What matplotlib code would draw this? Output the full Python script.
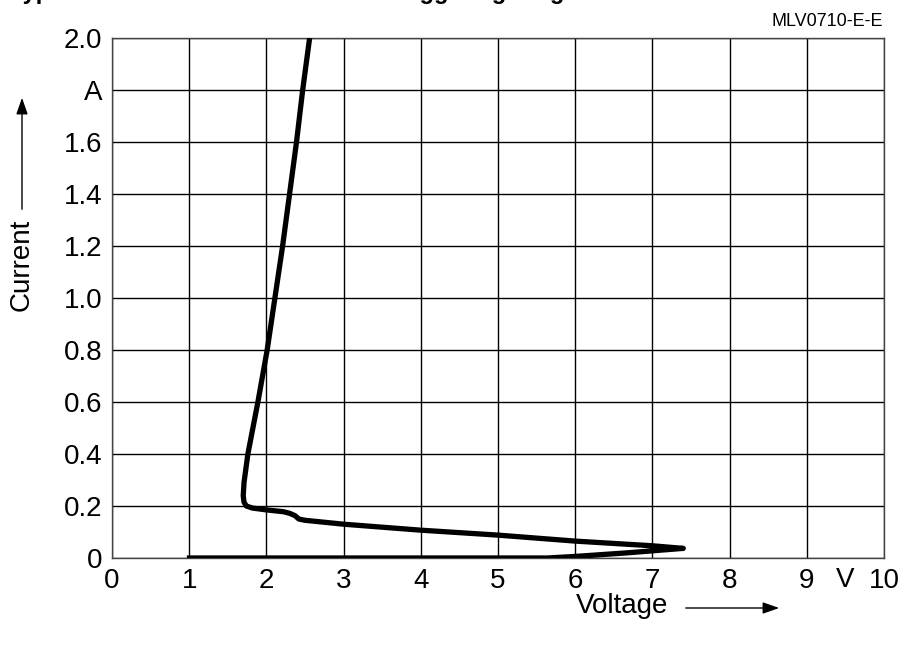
import matplotlib
matplotlib.use("Agg")
import matplotlib.pyplot as plt

plt.rcParams['font.family'] = ['Liberation Sans Narrow', 'Liberation Sans', 'DejaVu Sans']

# curve, traced from the start at 1 V along the bottom,
# out to the peak near 7.4 V and back up the steep branch
volt = [0.97, 2.0, 3.0, 4.0, 5.0, 5.64, 6.0, 6.68, 7.1, 7.4,
        7.0, 6.0, 5.0, 4.0, 3.0, 2.5, 2.42, 2.37, 2.30, 2.22, 2.0, 1.82,
        1.74, 1.71, 1.70, 1.71, 1.76, 1.89, 2.01, 2.11, 2.21, 2.30, 2.39, 2.47, 2.56]
amp = [0.0, 0.0, 0.0, 0.0, 0.0, 0.0, 0.006, 0.02, 0.03, 0.037,
       0.047, 0.065, 0.088, 0.107, 0.13, 0.145, 0.150, 0.163, 0.172, 0.178, 0.185, 0.192,
       0.200, 0.215, 0.24, 0.29, 0.40, 0.60, 0.80, 1.00, 1.20, 1.40, 1.60, 1.80, 2.0]

xticks = [0, 1, 2, 3, 4, 5, 6, 7, 8, 9, 10]
xlabels = ['0', '1', '2', '3', '4', '5', '6', '7', '8', '9', '10']
yticks = [0, 0.2, 0.4, 0.6, 0.8, 1.0, 1.2, 1.4, 1.6, 1.8, 2.0]
ylabels = ['0', '0.2', '0.4', '0.6', '0.8', '1.0', '1.2', '1.4', '1.6', 'A', '2.0']

fig = plt.figure(figsize=(9.01, 6.48), dpi=100)
ax = fig.add_axes([112 / 901, 90 / 648, 772 / 901, 520 / 648])

ax.plot(volt, amp, color='black', lw=3.8, solid_capstyle='butt', solid_joinstyle='round', zorder=3)

ax.set_xlim(0, 10)
ax.set_ylim(0, 2.0)
ax.set_xticks(xticks)
ax.set_xticklabels(xlabels, fontsize=20)
ax.set_yticks(yticks)
ax.set_yticklabels(ylabels, fontsize=20)
ax.tick_params(length=0, pad=7)
ax.grid(True, color='black', lw=1.0)
for s in ax.spines.values():
    s.set_color('#444444')
    s.set_linewidth(1.0)

ax.text(9.5, -0.084, 'V', ha='center', va='center', fontsize=20)

# axis titles with arrows
fig.text(22 / 901, 1 - 265 / 648, 'Current', rotation=90, ha='center', va='center', fontsize=20)
fig.add_artist(matplotlib.patches.FancyArrowPatch(
    (22 / 901, 1 - 212 / 648), (22 / 901, 1 - 95 / 648), transform=fig.transFigure,
    arrowstyle='-|>,head_length=10,head_width=3.5', color='black', lw=1.0, mutation_scale=1))
fig.text(622 / 901, 1 - 606 / 648, 'Voltage', ha='center', va='center', fontsize=20)
fig.add_artist(matplotlib.patches.FancyArrowPatch(
    (683 / 901, 1 - 608 / 648), (782 / 901, 1 - 608 / 648), transform=fig.transFigure,
    arrowstyle='-|>,head_length=10,head_width=3.5', color='black', lw=1.0, mutation_scale=1))

fig.text(883 / 901, 1 - 22 / 648, 'MLV0710-E-E', ha='right', va='center', fontsize=13)

# title, mostly cut off at the top edge of the picture
fig.text(10 / 901, 1 + 1.5 / 648, 'Typical characteristic curve in the triggering range',
         ha='left', va='baseline', fontsize=17, fontweight='bold', family=['Liberation Sans', 'DejaVu Sans'])

fig.savefig('out.png', dpi=100)
